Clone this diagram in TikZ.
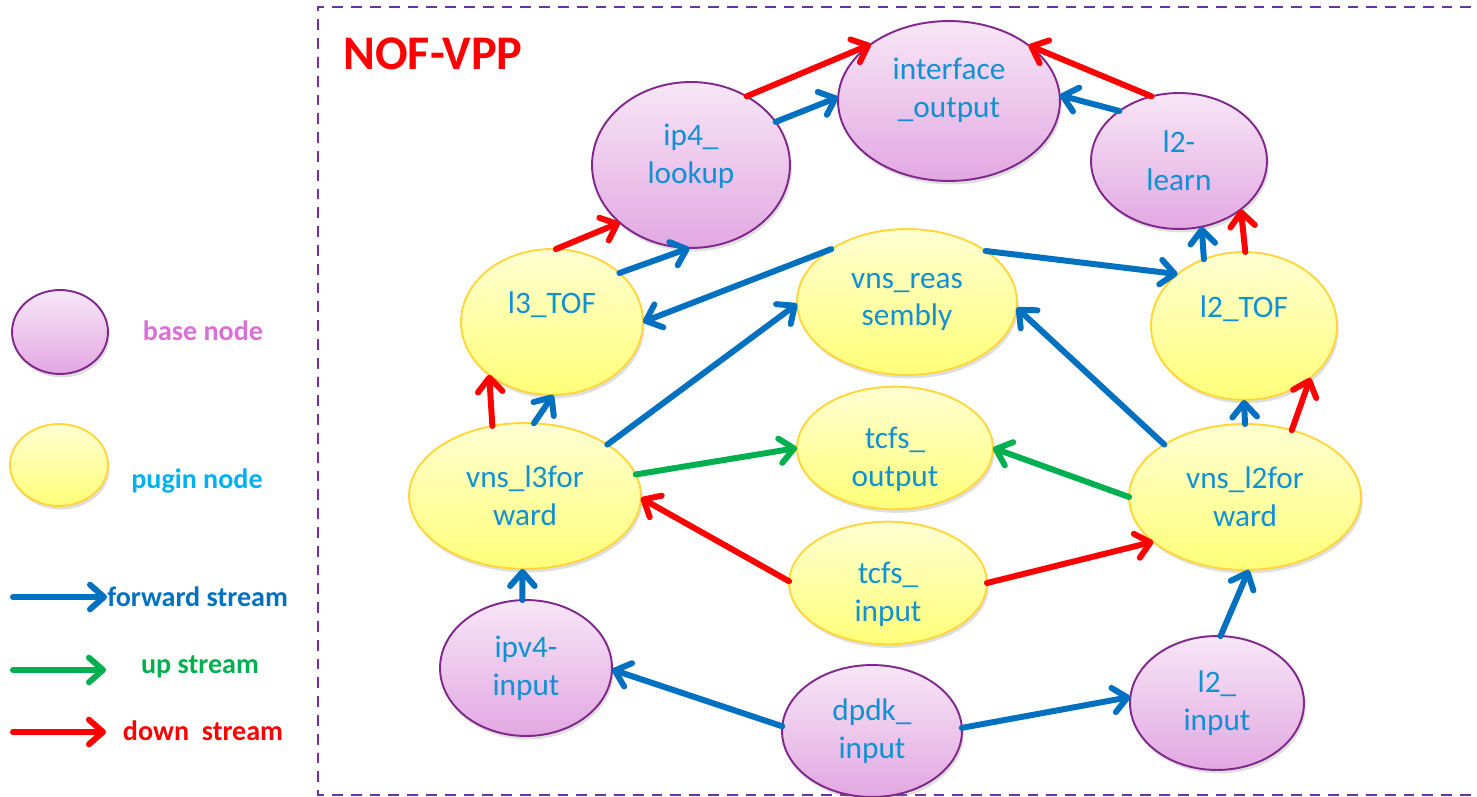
\documentclass[tikz,border=0pt]{standalone}
\usepackage{fontspec}
\setmainfont{Carlito}
\usetikzlibrary{shapes.geometric,arrows.meta,shadows}

\definecolor{txtblue}{RGB}{16,145,210}
\definecolor{fwdblue}{RGB}{0,112,192}
\definecolor{upgreen}{RGB}{0,176,80}
\definecolor{downred}{RGB}{255,0,0}
\definecolor{framepurple}{RGB}{112,48,160}
\definecolor{baseline}{RGB}{128,40,140}
\definecolor{basetop}{RGB}{247,230,246}
\definecolor{basebot}{RGB}{226,168,226}
\definecolor{puginline}{RGB}{255,214,60}
\definecolor{pugintop}{RGB}{255,255,210}
\definecolor{puginbot}{RGB}{255,255,120}
\definecolor{basetxt}{RGB}{218,112,214}
\definecolor{pugintxt}{RGB}{0,176,240}

% struts to nudge a label up (extra depth) or down (extra height)
\newcommand\liftup[1]{\rule[-#1]{0pt}{#1}}
\newcommand\pushdn[1]{\rule{0pt}{#1}}

\tikzset{
  rxy/.style 2 args={minimum width=#1*0.04cm, minimum height=#2*0.04cm},
  vnode/.style={ellipse, inner sep=0pt, outer sep=0pt, align=center,
    text=txtblue, font=\fontsize{17.8}{21.5}\selectfont,
    drop shadow={opacity=0.25, shadow xshift=1pt, shadow yshift=-2pt}},
  basenode/.style={vnode, draw=baseline, line width=1.1pt,
    top color=basetop, bottom color=basebot},
  puginnode/.style={vnode, draw=puginline, line width=1.1pt,
    top color=pugintop, bottom color=puginbot},
  flow/.style={line width=3.4pt, line cap=round,
    -{Straight Barb[length=8pt,width=14pt,round]}},
  fwd/.style={flow, draw=fwdblue},
  upst/.style={flow, draw=upgreen},
  downst/.style={flow, draw=downred},
  legtext/.style={font=\fontsize{16}{19}\selectfont\bfseries, inner sep=0pt}
}

\begin{document}
\begin{tikzpicture}[x=0.02cm, y=-0.02cm]
  \useasboundingbox (0,0) rectangle (1477,797);

  % frame
  \draw[framepurple, line width=1.1pt, dash pattern=on 6.2pt off 4.5pt]
    (1490,7) -- (318,7) -- (318,795) -- (1490,795);
  \node[text=downred, font=\fontsize{27.5}{30}\selectfont\bfseries] (title) at (433,54) {NOF-VPP};

  % base nodes
  \node[basenode, rxy={111}{80}] (iface) at (949,101) {interface\\\_output\liftup{15pt}};
  \node[basenode, rxy={99}{83}] (lookup) at (691,165) {ip4\_\\lookup\liftup{12.6pt}};
  \node[basenode, rxy={88}{68}] (learn) at (1179,161) {l2-\\learn};
  \node[basenode, rxy={86}{68}] (ipvin) at (526,668) {ipv4-\\input};
  \node[basenode, rxy={90}{66}] (dpdk) at (872,731) {dpdk\_\\input};
  \node[basenode, rxy={87}{67}] (ltwoin) at (1217,703) {l2\_\\input};

  % plugin nodes
  \node[puginnode, rxy={91}{73}] (lthreetof) at (552,322) {l3\_TOF\\\mbox{}};
  \node[puginnode, rxy={110}{73}] (reas) at (907,302) {vns\_reas\\sembly};
  \node[puginnode, rxy={93}{74}] (ltwotof) at (1244,326) {l2\_TOF\\\mbox{}};
  \node[puginnode, rxy={98}{58}] (tcfsout) at (895,448) {\pushdn{25pt}tcfs\_\\output};
  \node[puginnode, rxy={116}{73}] (lthreefw) at (525,496) {vns\_l3for\\ward};
  \node[puginnode, rxy={116}{73}] (ltwofw) at (1245,497) {vns\_l2for\\ward};
  \node[puginnode, rxy={99}{58}] (tcfsin) at (888,583) {\pushdn{25pt}tcfs\_\\input};

  % down stream
  \draw[downst] (lookup.51.5) -- (iface.144.6);
  \draw[downst] (learn.113.7) -- (iface.35.4);
  \draw[downst] (lthreetof.87.7) -- (lookup.219.8);
  \draw[downst] (ltwotof.89.2) -- (learn.-38.6);
  \draw[downst] (lthreefw.115.6) -- (lthreetof.220.2);
  \draw[downst] (ltwofw.55.4) -- (ltwotof.-38.7);
  \draw[downst] (tcfsin.179.4) -- (lthreefw.-1.9);
  \draw[downst] (tcfsin.0.6) -- (ltwofw.206.1);

  % forward stream
  \draw[fwd] (lookup.27.6) -- (iface.178);
  \draw[fwd] (learn.140.9) -- (iface.3);
  \draw[fwd] (lthreetof.36.2) -- (lookup.269.3);
  \draw[fwd] (reas.145.2) -- (lthreetof.0.6);
  \draw[fwd] (reas.33.5) -- (ltwotof.142.1);
  \draw[fwd] (ltwotof.121.8) -- (learn.-71.8);
  \draw[fwd] (lthreefw.83.7) -- (lthreetof.-89.2);
  \draw[fwd] (lthreefw.32.1) -- (reas.181);
  \draw[fwd] (ltwofw.147.4) -- (reas.-3.9);
  \draw[fwd] (ltwofw.90) -- (ltwotof.-90);
  \draw[fwd] (ipvin.93.4) -- (lthreefw.-92.2);
  \draw[fwd] (ltwoin.87.6) -- (ltwofw.-87.7);
  \draw[fwd] (dpdk.177.5) -- (ipvin.-1.9);
  \draw[fwd] (dpdk.2.5) -- (ltwoin.176.2);

  % up stream
  \draw[upst] (lthreefw.11.5) -- (tcfsout.180.5);
  \draw[upst] (ltwofw.180.5) -- (tcfsout.0);

  % legend
  \node[basenode, rxy={48}{42}] (legbase) at (60,332) {};
  \node[puginnode, rxy={49}{41}] (legpugin) at (59,465) {};
  \node[legtext, text=basetxt] (basetext) at (203,331) {base node};
  \node[legtext, text=pugintxt] (pugintext) at (197,481) {pugin node};

  \coordinate (fwdstart) at (13,597);
  \node[legtext, text=fwdblue, anchor=west] (fwdtext) at (107,597) {forward stream};
  \draw[fwd] (fwdstart) -- (fwdtext.west);

  \coordinate (upstart) at (13,670);
  \coordinate (upend) at (106,670);
  \node[legtext, text=upgreen] (uptext) at (200,667) {up stream};
  \draw[upst] (upstart) -- (upend);

  \coordinate (downstart) at (13,732);
  \coordinate (downend) at (106,732);
  \node[legtext, text=downred] (downtext) at (203,731) {down\ \ stream};
  \draw[downst] (downstart) -- (downend);
\end{tikzpicture}
\end{document}
